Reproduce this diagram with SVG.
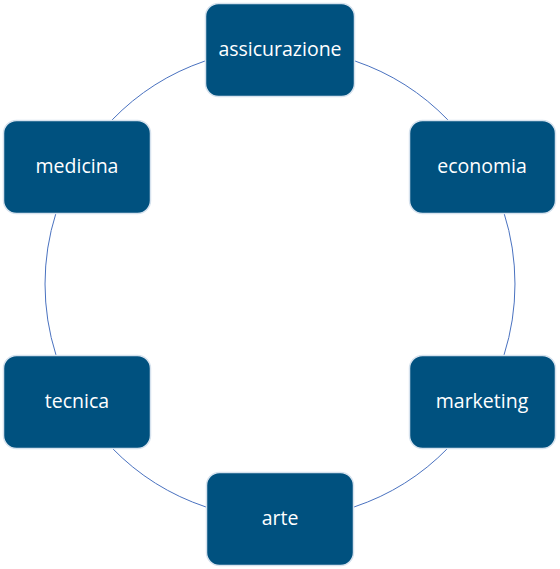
<svg xmlns="http://www.w3.org/2000/svg" width="560" height="569" viewBox="0 0 560 569">
<style>
.box{fill:#00517F;stroke:#D6E2EE;stroke-width:1.5}
.lbl{fill:#FFFFFF;font-family:"Open Sans","Noto Sans",sans-serif;font-size:19.5px;text-anchor:middle}
.arc{fill:none;stroke:#4A72C0;stroke-width:1}
</style>
<rect width="560" height="569" fill="#FFFFFF"/>
<g id="connectors">
<path class="arc" d="M355,61 A235,235 0 0 1 448,120"/>
<path class="arc" d="M504,213 A235,235 0 0 1 504,355"/>
<path class="arc" d="M448,448 A235,235 0 0 1 354,507"/>
<path class="arc" d="M206,507 A235,235 0 0 1 112,448"/>
<path class="arc" d="M56,355 A235,235 0 0 1 56,213"/>
<path class="arc" d="M112,120 A235,235 0 0 1 205,61"/>
</g>
<g id="assicurazione"><rect class="box" x="205.5" y="3.5" width="149" height="93" rx="13"/><text class="lbl" x="280" y="56">assicurazione</text></g>
<g id="economia"><rect class="box" x="409.5" y="120.5" width="146" height="93" rx="13"/><text class="lbl" x="482" y="173">economia</text></g>
<g id="marketing"><rect class="box" x="409.5" y="355.5" width="146" height="93" rx="13"/><text class="lbl" x="482" y="408">marketing</text></g>
<g id="arte"><rect class="box" x="206.5" y="472.5" width="147" height="93" rx="13"/><text class="lbl" x="280" y="525">arte</text></g>
<g id="tecnica"><rect class="box" x="3.5" y="355.5" width="147" height="93" rx="13"/><text class="lbl" x="77" y="408">tecnica</text></g>
<g id="medicina"><rect class="box" x="3.5" y="120.5" width="147" height="93" rx="13"/><text class="lbl" x="77" y="173">medicina</text></g>
</svg>
